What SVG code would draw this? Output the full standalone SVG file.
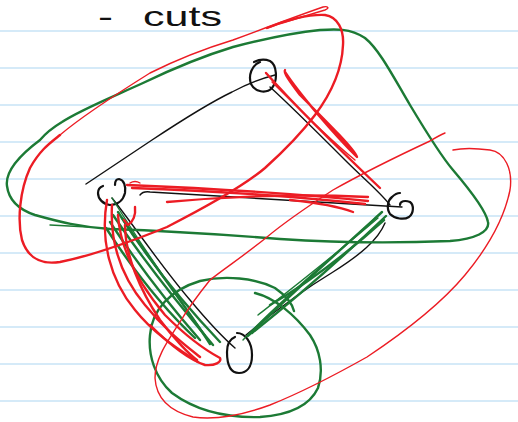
<svg xmlns="http://www.w3.org/2000/svg" width="518" height="422" viewBox="0 0 518 422">
<style>
.rule{stroke:#d5eaf8;stroke-width:2}
.ink{fill:none;stroke-linecap:round;stroke-linejoin:round}
.blk{stroke:#111;stroke-width:1.4}
.node{stroke:#111;stroke-width:2.2}
.red{stroke:#ec1c24;stroke-width:2.4}
.redt{stroke:#ec1c24;stroke-width:1.4}
.grn{stroke:#1c7a35;stroke-width:2.4}
.grnt{stroke:#1c7a35;stroke-width:1.4}
.hand{font-family:"Liberation Sans","DejaVu Sans",sans-serif;font-size:28px;fill:#111}
</style>
<rect width="518" height="422" fill="#fff"/>
<g id="paper">
<line class="rule" x1="0" y1="31" x2="518" y2="31"/>
<line class="rule" x1="0" y1="68" x2="518" y2="68"/>
<line class="rule" x1="0" y1="105" x2="518" y2="105"/>
<line class="rule" x1="0" y1="142" x2="518" y2="142"/>
<line class="rule" x1="0" y1="179" x2="518" y2="179"/>
<line class="rule" x1="0" y1="216" x2="518" y2="216"/>
<line class="rule" x1="0" y1="253" x2="518" y2="253"/>
<line class="rule" x1="0" y1="290" x2="518" y2="290"/>
<line class="rule" x1="0" y1="327" x2="518" y2="327"/>
<line class="rule" x1="0" y1="364" x2="518" y2="364"/>
<line class="rule" x1="0" y1="401" x2="518" y2="401"/>
</g>
<g id="title">
<text class="hand" x="98" y="26" textLength="15" lengthAdjust="spacingAndGlyphs">-</text>
<text class="hand" x="143" y="26" textLength="79" lengthAdjust="spacingAndGlyphs">cuts</text>
</g>
<g id="connectors" class="ink blk">
<path d="M86,184 L152,140 Q205,105 232,92 Q255,80 275,75"/>
<path d="M270,87 C290,105 320,135 345,160 C365,180 380,192 390,205"/>
<path d="M140,195 Q143,191 150,192 L402,207"/>
<path d="M385,223 C378,240 360,255 333,272 C300,292 270,315 246,335"/>
<path d="M112,198 C130,220 160,265 190,300 C205,318 220,335 235,348"/>
</g>
<g id="node-top" class="ink node">
<path d="M254,62 Q262,58 270,61 C277,65 278,80 272,88 C266,94 255,92 251,84 C248,75 252,65 260,62"/>
</g>
<g id="node-left" class="ink node">
<path d="M115,185 Q115,179 119,179 C124,180 126,186 125,193 C123,201 117,205 110,205 C103,204 98,199 98,193 C98,189 100,187 103,186"/>
</g>
<g id="node-right" class="ink node">
<path d="M400,205 C400,201 405,200 410,202 C414,205 414,213 409,217 C404,220 395,219 390,214 C386,208 388,200 392,197 C395,194 398,193 400,193"/>
</g>
<g id="node-bottom" class="ink node">
<path d="M237,333 C245,333 252,342 252,355 C252,368 246,373 239,373 C231,373 227,365 227,352 C227,344 230,339 235,337"/>
</g>
<g id="green-cuts" class="ink">
<path class="grn" d="M113,215 C140,255 175,300 213,345"/>
<path class="grn" d="M118,212 C145,255 180,300 220,342"/>
<path class="grn" d="M110,222 C135,260 165,300 200,340"/>
<path class="grn" d="M122,218 C150,260 185,305 210,344"/>
<path class="grn" d="M106,228 C130,265 160,305 195,338"/>
<path class="grnt" d="M112,198 C135,235 165,280 205,335"/>
<path class="grn" d="M382,212 C340,250 290,295 248,336"/>
<path class="grn" d="M386,216 C345,255 300,295 252,333"/>
<path class="grnt" d="M378,218 C335,255 290,290 258,315"/>
<path class="grn" d="M384,220 C345,255 305,285 270,305"/>
<path class="grnt" d="M380,214 C330,260 280,300 243,340"/>
<path class="grn" d="M40,140 C20,155 5,172 7,186 C9,202 20,210 35,215 C60,222 80,227 110,229 C170,231 230,235 280,239 C340,243 400,243 450,241 C475,239 490,232 488,222 C486,210 470,190 453,170 C440,155 425,130 410,105 C395,80 380,50 365,38 C350,28 335,29 320,30 C290,33 260,40 233,47 C200,57 170,70 143,83 C110,98 80,110 62,122 C52,128 45,134 40,140"/>
<path class="grnt" d="M50,225 L88,227"/>
<path class="grn" d="M255,293 C275,298 295,315 310,335 C320,350 324,370 318,388 C310,405 290,415 260,417 C225,418 195,410 172,393 C155,378 148,355 150,335 C152,310 170,290 200,281 C225,275 255,278 275,288 C285,295 292,303 294,311"/>
</g>
<g id="red-cuts" class="ink">
<path class="red" d="M285,72 C300,95 335,135 357,157 C355,150 330,125 300,95 C290,82 283,72 285,70"/>
<path class="red" d="M266,73 C290,100 340,150 380,188"/>
<path class="redt" d="M272,82 C300,110 330,140 355,160"/>
<path class="red" d="M127,185 C200,188 300,194 368,201"/>
<path class="red" d="M132,188 C220,191 300,197 365,204"/>
<path class="red" d="M167,202 C230,196 300,194 368,197"/>
<path class="red" d="M290,200 C320,203 340,207 353,212"/>
<path class="redt" d="M130,183 Q135,180 140,183"/>
<path class="red" d="M107,200 C100,240 110,280 135,310 C155,335 180,350 198,362"/>
<path class="red" d="M112,205 C110,240 120,275 145,305 C165,330 185,345 200,357"/>
<path class="red" d="M118,215 C120,250 140,285 165,315 C185,335 205,350 220,358 C222,362 215,366 205,365 C190,360 170,345 150,325"/>
<path class="red" d="M125,225 C125,255 140,290 160,320 C175,340 190,355 197,360"/>
<path class="red" d="M135,207 C136,215 133,222 128,225 L124,220"/>
<path class="red" d="M267,28 C285,20 310,14 325,15 C338,17 344,30 343,45 C342,70 330,95 315,115 C300,135 285,150 265,168 C245,185 210,205 167,227 C130,242 95,255 60,262 C40,265 28,258 22,240 C17,220 20,190 30,168 C40,150 50,143 60,135"/>
<path class="redt" d="M60,135 C80,118 110,98 150,73 C180,58 210,47 233,40 C265,28 300,15 323,7 C328,6 330,8 325,10 C305,16 285,22 267,28"/>
<path class="redt" d="M445,133 C440,135 435,138 430,141 C400,155 365,172 333,190 C310,205 285,222 267,237 C245,255 225,268 210,280"/>
<path class="redt" d="M210,280 C198,295 190,305 180,322 C165,345 155,360 155,378 C156,395 165,410 193,417 C215,420 240,416 270,405 C300,393 335,375 367,357 C400,335 440,305 465,275 C490,245 505,215 510,190 C513,170 505,152 490,150 C475,148 462,148 453,150"/>
</g>
</svg>
